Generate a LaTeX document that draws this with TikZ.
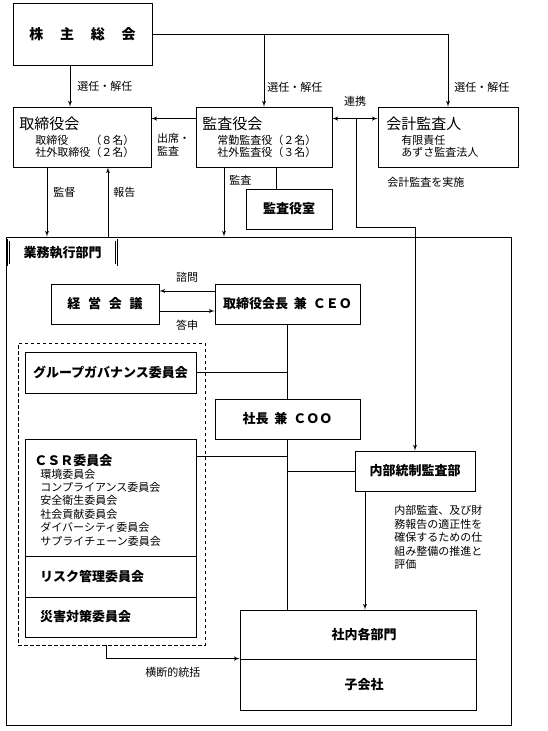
\documentclass[tikz,border=0pt]{standalone}
\usepackage{fontspec}
\setmainfont{Noto Sans CJK JP}
\usepackage{tikz}
\usetikzlibrary{arrows,fit,positioning}
\tikzset{
    %Define standard arrow tip
    >=latex',
    %Define style for boxes
    kasten/.style={
           rectangle,
           draw=black, line width=0.9pt,
           inner sep=0pt,
           font=\fontsize{13}{15}\selectfont\bfseries,
           text centered},
    doppel/.style={
           rectangle,
           draw=black, double, line width=0.6pt,
           double distance=1.4pt,
           inner sep=0pt,
           font=\fontsize{13}{15}\selectfont\bfseries,
           text centered},
    gruppe/.style={
           rectangle,
           draw=black, line width=0.7pt,
           dash pattern=on 3.5pt off 2.5pt,
           inner sep=0pt},
    %Define style for texts
    titel/.style={
           inner sep=0pt,
           font=\fontsize{15}{17}\selectfont},
    klein/.style={
           inner sep=0pt,
           align=left,
           font=\fontsize{11}{12.5}\selectfont},
    lbl/.style={
           inner sep=2pt,
           font=\fontsize{11}{13}\selectfont}
}

\begin{document}
\begin{tikzpicture}[x=1pt,y=-1pt,line width=0.9pt]
\useasboundingbox (0,0) rectangle (548,731);

 %nodes
\node[kasten, minimum width=139, minimum height=62, font=\fontsize{14}{16}\selectfont\bfseries] (hv) at (82.5,34) {株\hspace{1.2em}主\hspace{1.2em}総\hspace{1.2em}会};

\node[kasten, minimum width=138, minimum height=60] (tr) at (82,137) {};
\node[titel, anchor=west] (trT) at (19,124) {取締役会};
\node[klein, anchor=north west] (trS) at (35,134.5) {取締役　　（８名）\\社外取締役（２名）};

\node[kasten, minimum width=136, minimum height=60] (ka) at (264,137) {};
\node[titel, anchor=west] (kaT) at (202,124) {監査役会};
\node[klein, anchor=north west] (kaS) at (217,134.5) {常勤監査役（２名）\\社外監査役（３名）};

\node[kasten, minimum width=140, minimum height=60] (kp) at (448,137) {};
\node[titel, anchor=west] (kpT) at (386,124) {会計監査人};
\node[klein, anchor=north west] (kpS) at (401,134.5) {有限責任\\あずさ監査法人};
\node[lbl, anchor=west] (kpL) at (385,182) {会計監査を実施};

\node[kasten, minimum width=86, minimum height=40] (ks) at (289,209) {監査役室};

\node[kasten, minimum width=505, minimum height=488] (gb) at (258.5,481) {};
\node[doppel, minimum width=108, minimum height=25] (gbL) at (62.5,252.5) {業務執行部門};

\node[kasten, minimum width=108, minimum height=40] (km) at (105,304) {経\hspace{0.6em}営\hspace{0.6em}会\hspace{0.6em}議};
\node[kasten, minimum width=145, minimum height=40] (ceo) at (287.5,304) {取締役会長\hspace{0.45em}兼\hspace{0.45em}ＣＥＯ};
\node[kasten, minimum width=145, minimum height=40] (coo) at (287.5,419) {社長\hspace{0.45em}兼\hspace{0.45em}ＣＯＯ};

\node[gruppe, minimum width=187, minimum height=302] (dash) at (111.5,494) {};
\node[kasten, minimum width=171, minimum height=41] (gov) at (110.5,372.5) {グループガバナンス委員会};
\node[kasten, minimum width=171, minimum height=117] (csr) at (110.5,497.5) {};
\node[kasten, draw=none, anchor=west] (csrT) at (34,461) {ＣＳＲ委員会};
\node[klein, anchor=north west, font=\fontsize{11}{13.4}\selectfont] (csrS) at (40,468.5) {環境委員会\\コンプライアンス委員会\\安全衛生委員会\\社会貢献委員会\\ダイバーシティ委員会\\サプライチェーン委員会};
\node[kasten, minimum width=171, minimum height=41, text width=141, align=left] (risk) at (110.5,576.5) {リスク管理委員会};
\node[kasten, minimum width=171, minimum height=40, text width=141, align=left] (sai) at (110.5,617) {災害対策委員会};

\node[kasten, minimum width=120, minimum height=40] (naibu) at (415,471) {内部統制監査部};
\node[klein, anchor=north west, font=\fontsize{11}{13.5}\selectfont] (naibuS) at (394,505) {内部監査、及び財\\務報告の適正性を\\確保するための仕\\組み整備の推進と\\評価};

\node[kasten, minimum width=236, minimum height=49] (sb) at (358,634.5) {\hspace{12pt}社内各部門};
\node[kasten, minimum width=236, minimum height=51] (kg) at (358,684.5) {\hspace{12pt}子会社};

 %connectors
\draw[->] ([xshift=-12.5pt]hv.south) -- node[lbl, right=5pt] {選任・解任} ([xshift=-12.5pt]hv.south |- tr.north);
\draw[->] (hv.east) -| node[lbl, pos=0.87, right=4pt] {選任・解任} (kp.north);
\draw[->] (hv.east -| ka.north) -- node[lbl, pos=0.74, right=1pt] {選任・解任} (ka.north);

\draw[->] ([yshift=-12pt]ka.north west) -- node[lbl, below=12pt, align=left] {出席・\\監査} ([yshift=-12pt]ka.north west -| tr.east);
\draw[<->] ([yshift=-12pt]ka.north east) -- node[lbl, above=10pt] {連携} ([yshift=-12pt]kp.north west);
\coordinate (rk) at ([xshift=24pt,yshift=-12pt]ka.north east);
\draw[->] (rk) -- ++(0,109) -| (naibu.north);

\draw[->] ([xshift=-35pt]tr.south) -- node[lbl, right=4pt, pos=0.36] {監督} ([xshift=-35pt]tr.south |- gb.north);
\draw[->] ([xshift=26pt]tr.south |- gb.north) -- node[lbl, right=3pt, pos=0.64] {報告} ([xshift=26pt]tr.south);
\draw[->] ([xshift=-40pt]ka.south) -- node[lbl, right=3pt, pos=0.19] {監査} ([xshift=-40pt]ka.south |- gb.north);
\draw ([xshift=12pt]ka.south) -- ([xshift=12pt]ka.south |- ks.north);

\draw[->] ([yshift=13pt]ceo.west) -- node[lbl, above=6pt] {諮問} ([yshift=13pt]ceo.west -| km.east);
\draw[->] ([yshift=-7pt]km.east) -- node[lbl, below=7pt] {答申} ([yshift=-7pt]km.east -| ceo.west);

\draw (ceo) -- (coo);
\draw (gov.east) -- (gov.east -| coo.north);
\draw (coo.south) -- (coo.south |- sb.north);
\draw ([yshift=-18pt]csr.north east) -- ([yshift=-18pt]csr.north east -| coo.south);
\draw (naibu.west) -- (naibu.west -| coo.south);
\draw[->] ([xshift=-50pt]naibu.south) -- ([xshift=-50pt]naibu.south |- sb.north);
\draw[->] ([xshift=-5.5pt]dash.south) |- node[lbl, below=6pt, pos=0.75] {横断的統括} (kg.north west);
\end{tikzpicture}
\end{document}
